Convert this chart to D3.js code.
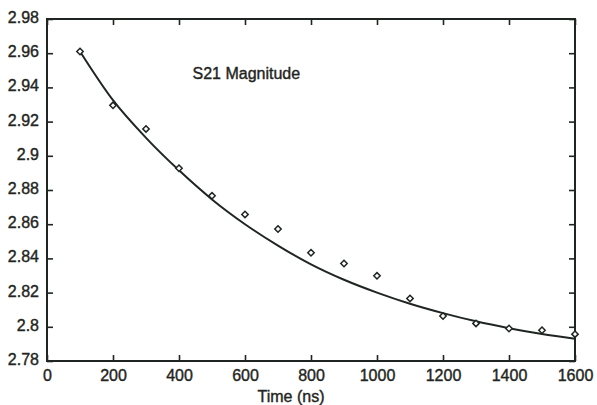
<!DOCTYPE html>
<html>
<head>
<meta charset="utf-8">
<script src="https://cdn.jsdelivr.net/npm/d3@7"></script>
<style>
  html, body { margin: 0; padding: 0; background: #ffffff; }
  svg { display: block; }
  text { font-family: "Liberation Sans", Arial, Helvetica, sans-serif; fill: #1f2622; }
</style>
</head>
<body>
<svg id="chart" width="597" height="405"></svg>
<script>
// ---- data ----
const measuredTime = [100, 200, 300, 400, 500, 600, 700, 800, 900, 1000, 1100, 1200, 1300, 1400, 1500, 1600];
const measuredMag  = [2.961, 2.9295, 2.9157, 2.8927, 2.8766, 2.8657, 2.8572, 2.8433, 2.837, 2.8298, 2.8166, 2.8063, 2.802, 2.799, 2.798, 2.7957];

const fitTime = [100, 200, 300, 400, 500, 600, 700, 800, 900, 1000, 1100, 1200, 1300, 1400, 1500, 1600];
const fitMag  = [2.961, 2.9325, 2.9105, 2.8915, 2.8745, 2.8600, 2.8475, 2.8365, 2.8275, 2.8200, 2.8135, 2.8080, 2.8032, 2.7992, 2.7958, 2.7930];

const xTicks = [0, 200, 400, 600, 800, 1000, 1200, 1400, 1600];
const yTicks = [2.78, 2.8, 2.82, 2.84, 2.86, 2.88, 2.9, 2.92, 2.94, 2.96, 2.98];

const chartTitle = "S21 Magnitude";
const xTitle = "Time (ns)";

// ---- layout ----
const ink = "#1f2622";
const svg = d3.select("#chart");
const mLeft = 47, mRight = 575, mTop = 19, mBottom = 361;

const x = d3.scaleLinear().domain([0, 1600]).range([mLeft, mRight]);
const y = d3.scaleLinear().domain([2.78, 2.98]).range([mBottom, mTop]);

const fmtY = d => String(+d.toFixed(2));

// frame ticks (inward on all four sides)
const tickLen = 6;
const axG = svg.append("g");

axG.append("g").attr("transform", `translate(0,${mBottom})`)
  .call(d3.axisBottom(x).tickValues(xTicks).tickSize(-tickLen).tickPadding(9).tickFormat(d3.format("d")));
axG.append("g").attr("transform", `translate(0,${mTop})`)
  .call(d3.axisTop(x).tickValues(xTicks).tickSize(-tickLen).tickFormat(""));
const yAxisG = axG.append("g").attr("transform", `translate(${mLeft},0)`)
  .call(d3.axisLeft(y).tickValues(yTicks).tickSize(-tickLen).tickPadding(8).tickFormat(fmtY));
axG.append("g").attr("transform", `translate(${mRight},0)`)
  .call(d3.axisRight(y).tickValues(yTicks).tickSize(-tickLen).tickFormat(""));

axG.selectAll(".domain").remove();
axG.selectAll(".tick line").attr("stroke", ink).attr("stroke-width", 1.6);
axG.selectAll(".tick text")
  .attr("font-size", 16)
  .attr("font-family", "\"Liberation Sans\", Arial, sans-serif")
  .attr("fill", ink)
  .attr("stroke", ink).attr("stroke-width", 0.4);
yAxisG.selectAll(".tick text").attr("dy", "0.22em");

// frame
svg.append("rect")
  .attr("x", mLeft).attr("y", mTop)
  .attr("width", mRight - mLeft).attr("height", mBottom - mTop)
  .attr("fill", "none").attr("stroke", ink).attr("stroke-width", 2);

// fitted curve
const fitData = fitTime.map((t, i) => ({ t, v: fitMag[i] }));
const line = d3.line().x(d => x(d.t)).y(d => y(d.v)).curve(d3.curveMonotoneX);
svg.append("path")
  .datum(fitData)
  .attr("d", line)
  .attr("fill", "none")
  .attr("stroke", ink)
  .attr("stroke-width", 2);

// measured points (open diamonds)
const measData = measuredTime.map((t, i) => ({ t, v: measuredMag[i] }));
const diamond = d3.symbol().type(d3.symbolDiamond2).size(26);
svg.append("g").selectAll("path")
  .data(measData)
  .join("path")
  .attr("transform", d => `translate(${x(d.t)},${y(d.v)})`)
  .attr("d", diamond)
  .attr("fill", "#ffffff")
  .attr("stroke", ink)
  .attr("stroke-width", 1.5);

// in-plot title
svg.append("text")
  .attr("x", 192.5).attr("y", 78.5)
  .attr("font-size", 16)
  .attr("stroke", ink).attr("stroke-width", 0.4)
  .text(chartTitle);

// x axis title
svg.append("text")
  .attr("x", 291).attr("y", 401.5)
  .attr("text-anchor", "middle")
  .attr("font-size", 16)
  .attr("stroke", ink).attr("stroke-width", 0.4)
  .text(xTitle);
</script>
</body>
</html>
